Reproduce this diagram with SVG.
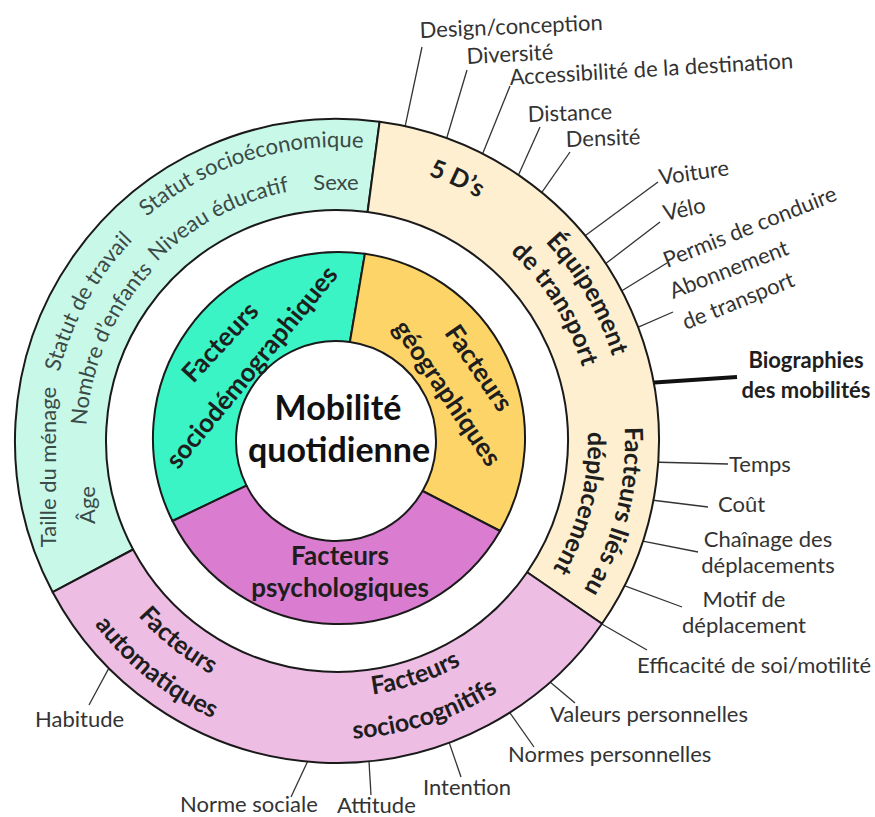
<svg xmlns="http://www.w3.org/2000/svg" width="875" height="817" viewBox="0 0 875 817">
<style>
.seg{stroke:#1a1a1a;stroke-width:2;stroke-linejoin:round}
.t{font-family:Lato,"Open Sans",sans-serif;font-size:22px;fill:#333}
.tr{font-family:Lato,"Open Sans",sans-serif;font-size:22px;fill:#3a4a47}
.b{font-family:Lato,"Open Sans",sans-serif;font-weight:bold;font-size:25px;fill:#1e1e1e}
.bi{font-family:Lato,"Open Sans",sans-serif;font-weight:bold;font-size:26px;fill:#1e1e1e}
.ctr{font-family:Lato,"Open Sans",sans-serif;font-weight:bold;font-size:34px;fill:#111}
.ld{stroke:#333;stroke-width:1.3;fill:none}
</style>
<defs>
<path id="a1" d="M 49.9 377.9 A 294 294 0 0 1 535.2 223.9"/>
<path id="a2" d="M 83.2 432.1 A 254 254 0 0 1 471.6 225.6"/>
<path id="a3" d="M 91.3 587.4 A 286 286 0 0 1 333.0 155.0"/>
<path id="a4" d="M 136.0 591.3 A 251 251 0 0 1 307.3 191.8"/>
<path id="a5" d="M 174.2 212.0 A 281 281 0 0 1 616.8 414.6"/>
<path id="a6" d="M 335.0 153.0 A 288 288 0 0 1 587.4 583.2"/>
<path id="a7" d="M 327.6 185.2 A 256 256 0 0 1 563.3 560.8"/>
<path id="a8" d="M 537.8 234.5 A 288 288 0 0 1 415.4 718.1"/>
<path id="a9" d="M 512.3 261.4 A 251 251 0 0 1 404.9 682.6"/>
<path id="a10" d="M 74.9 401.8 A 265 265 0 0 0 434.1 687.6"/>
<path id="a11" d="M 36.3 396.1 A 304 304 0 0 0 448.4 723.8"/>
<path id="a12" d="M 167.4 632.7 A 256 256 0 0 0 587.9 492.0"/>
<path id="a13" d="M 137.2 662.1 A 298 298 0 0 0 628.4 503.5"/>
</defs>

<g id="connectors">
<line class="ld" x1="402.5" y1="138.7" x2="422" y2="47"/>
<line class="ld" x1="443.6" y1="148.5" x2="467" y2="70"/>
<line class="ld" x1="478.5" y1="164.1" x2="510" y2="86"/>
<line class="ld" x1="517.1" y1="177.9" x2="540" y2="127"/>
<line class="ld" x1="540.1" y1="194.9" x2="570" y2="152"/>
<line class="ld" x1="583.4" y1="237.1" x2="658" y2="182"/>
<line class="ld" x1="603.5" y1="265.3" x2="660" y2="222"/>
<line class="ld" x1="617.8" y1="293.3" x2="667" y2="263"/>
<line class="ld" x1="632" y1="329.8" x2="673" y2="312"/>
<line x1="647" y1="383" x2="737" y2="377" stroke="#111" stroke-width="4"/>
<line class="ld" x1="650" y1="462" x2="728" y2="464"/>
<line class="ld" x1="647" y1="499.5" x2="708" y2="507"/>
<line class="ld" x1="635.2" y1="539.7" x2="698" y2="552"/>
<line class="ld" x1="616.7" y1="582.8" x2="682" y2="607"/>
<line class="ld" x1="589.6" y1="617" x2="647" y2="650"/>
<line class="ld" x1="540.8" y1="674.3" x2="575" y2="703"/>
<line class="ld" x1="501.1" y1="700.2" x2="534" y2="747"/>
<line class="ld" x1="446.1" y1="733.6" x2="461" y2="777"/>
<line class="ld" x1="368.3" y1="750" x2="371" y2="795"/>
<line class="ld" x1="310.1" y1="756.1" x2="291" y2="797"/>
<line class="ld" x1="114.7" y1="657.4" x2="89" y2="705"/>
</g>

<g id="outer-sociodemo">
<path class="seg" fill="#c8f8e8" d="M 52.7 592.2 A 322 322 0 0 1 379.6 121.8 L 367.6 212.0 A 231 231 0 0 0 133.1 549.5 Z"/>
<text class="tr"><textPath href="#a1" startOffset="50%" text-anchor="middle">Statut socioéconomique</textPath></text>
<text class="tr"><textPath href="#a2" startOffset="50%" text-anchor="middle">Niveau éducatif</textPath></text>
<text class="tr"><textPath href="#a3" startOffset="50%" text-anchor="middle">Statut de travail</textPath></text>
<text class="tr"><textPath href="#a4" startOffset="50%" text-anchor="middle">Nombre d’enfants</textPath></text>
<text class="tr" text-anchor="middle" transform="translate(56,467) rotate(-90)">Taille du ménage</text>
<text class="tr" text-anchor="middle" transform="translate(95,505) rotate(-90)">Âge</text>
<text class="tr" text-anchor="middle" x="336" y="190">Sexe</text>
</g>

<g id="outer-geo">
<path class="seg" fill="#fdefd0" d="M 379.6 121.8 A 322 322 0 0 1 602.0 623.8 L 527.1 572.2 A 231 231 0 0 0 367.6 212.0 Z"/>
<text class="b"><textPath href="#a5" startOffset="50%" text-anchor="middle">5 D’s</textPath></text>
<text class="b"><textPath href="#a6" startOffset="50%" text-anchor="middle">Équipement</textPath></text>
<text class="b"><textPath href="#a7" startOffset="50%" text-anchor="middle">de transport</textPath></text>
<text class="b"><textPath href="#a8" startOffset="50%" text-anchor="middle">Facteurs liés au</textPath></text>
<text class="b"><textPath href="#a9" startOffset="50%" text-anchor="middle">déplacement</textPath></text>
</g>

<g id="outer-psycho">
<path class="seg" fill="#eebde4" d="M 602.0 623.8 A 322 322 0 0 1 52.7 592.2 L 133.1 549.5 A 231 231 0 0 0 527.1 572.2 Z"/>
<text class="b"><textPath href="#a10" startOffset="50%" text-anchor="middle">Facteurs</textPath></text>
<text class="b"><textPath href="#a11" startOffset="50%" text-anchor="middle">automatiques</textPath></text>
<text class="b"><textPath href="#a12" startOffset="50%" text-anchor="middle">Facteurs</textPath></text>
<text class="b"><textPath href="#a13" startOffset="50%" text-anchor="middle">sociocognitifs</textPath></text>
</g>

<g id="inner-sociodemo">
<path class="seg" fill="#3af4c6" d="M 172.5 521 A 186 186 0 0 1 364.9 253.8 L 349.9 342.0 A 100 100 0 0 0 246.5 485.6 Z"/>
<text class="bi" text-anchor="middle" dy="0.35em" transform="translate(220,342) rotate(-47)">Facteurs</text>
<text class="bi" text-anchor="middle" dy="0.35em" transform="translate(251.5,367) rotate(-50.5)">sociodémographiques</text>
</g>

<g id="inner-geo">
<path class="seg" fill="#fdd468" d="M 364.9 253.8 A 186 186 0 0 1 500.1 531 L 422.6 491 A 100 100 0 0 0 349.9 342.0 Z"/>
<text class="bi" text-anchor="middle" dy="0.35em" transform="translate(479,368) rotate(55.6)">Facteurs</text>
<text class="bi" text-anchor="middle" dy="0.35em" transform="translate(447.5,393) rotate(55.8)">géographiques</text>
</g>

<g id="inner-psycho">
<path class="seg" fill="#da7ccf" d="M 500.1 531 A 186 186 0 0 1 172.5 521 L 246.5 485.6 A 100 100 0 0 0 422.6 491 Z"/>
<text class="bi" text-anchor="middle" x="340" y="565">Facteurs</text>
<text class="bi" text-anchor="middle" x="340" y="597">psychologiques</text>
</g>

<g id="center">
<text class="ctr" text-anchor="middle" x="338" y="420">Mobilité</text>
<text class="ctr" text-anchor="middle" x="339" y="462">quotidienne</text>
</g>

<g id="labels">
<text class="t" transform="translate(420,38) rotate(-2.5)">Design/conception</text>
<text class="t" transform="translate(467,64) rotate(-3)">Diversité</text>
<text class="t" transform="translate(510,85) rotate(-3.4)">Accessibilité de la destination</text>
<text class="t" transform="translate(528,122) rotate(-2)">Distance</text>
<text class="t" transform="translate(566,147) rotate(-2)">Densité</text>
<text class="t" transform="translate(660,185) rotate(-8)">Voiture</text>
<text class="t" transform="translate(665,221) rotate(-12)">Vélo</text>
<text class="t" transform="translate(667,268) rotate(-21.7)">Permis de conduire</text>
<text class="t" transform="translate(673,299) rotate(-21)">Abonnement</text>
<text class="t" transform="translate(686,330) rotate(-22)">de transport</text>
<text class="b" style="font-size:22px" text-anchor="middle" x="806" y="368">Biographies</text>
<text class="b" style="font-size:22px" text-anchor="middle" x="806" y="398">des mobilités</text>
<text class="t" x="729" y="472">Temps</text>
<text class="t" x="718" y="512">Coût</text>
<text class="t" text-anchor="middle" x="768" y="547">Chaînage des</text>
<text class="t" text-anchor="middle" x="768" y="573">déplacements</text>
<text class="t" text-anchor="middle" x="744" y="607">Motif de</text>
<text class="t" text-anchor="middle" x="744" y="633">déplacement</text>
<text class="t" x="637" y="673">Efficacité de soi/motilité</text>
<text class="t" x="550" y="722">Valeurs personnelles</text>
<text class="t" x="508" y="762">Normes personnelles</text>
<text class="t" x="423" y="795">Intention</text>
<text class="t" x="337" y="813">Attitude</text>
<text class="t" x="180" y="812">Norme sociale</text>
<text class="t" x="35" y="727">Habitude</text>
</g>
</svg>
